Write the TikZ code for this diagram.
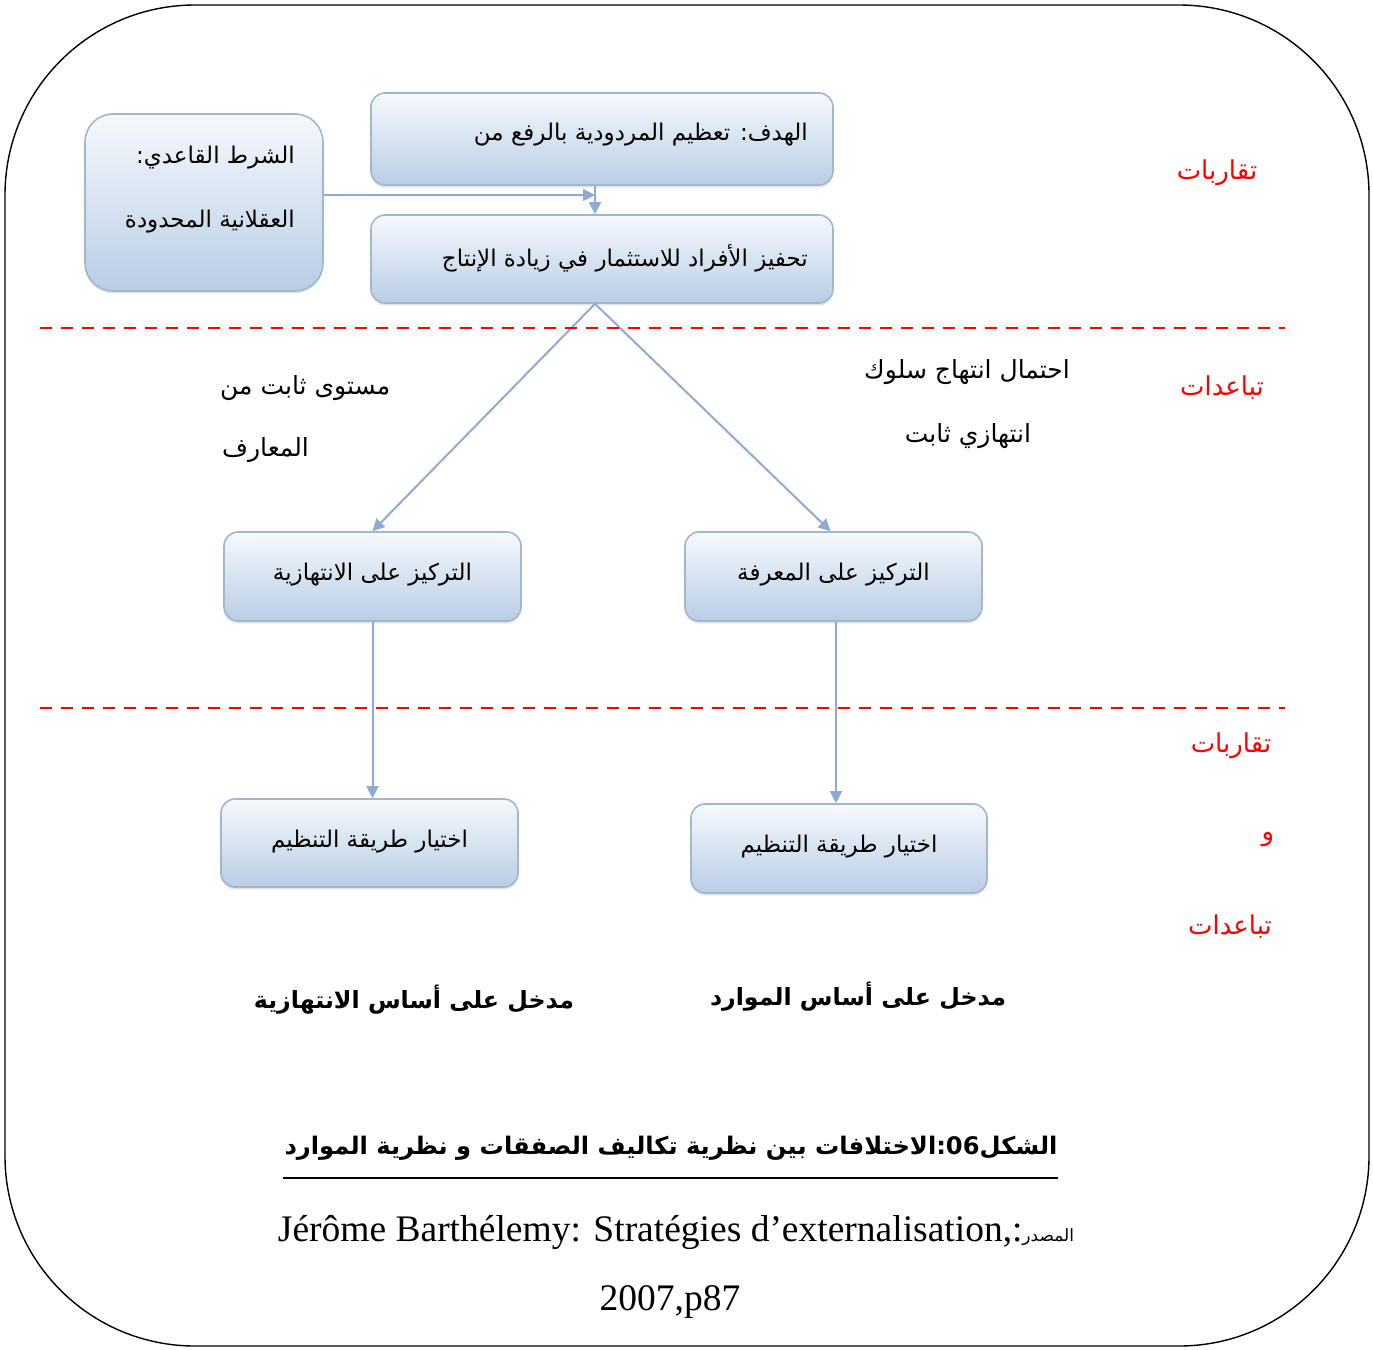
\documentclass[tikz,border=0pt]{standalone}
\usepackage{fontspec}
\setmainfont{Liberation Serif}
\newfontfamily\arabicfont[Script=Arabic]{DejaVu Sans}
\TeXXeTstate=1
\usetikzlibrary{arrows.meta,shadows}

\definecolor{boxtop}{HTML}{F6F9FC}
\definecolor{boxbot}{HTML}{B9CDE5}
\definecolor{boxline}{HTML}{A2B6CC}
\definecolor{arrowblue}{HTML}{8FAAD3}

\newcommand{\artext}[1]{{\arabicfont\beginR #1\endR}}

\begin{document}
\begin{tikzpicture}[x=1pt,y=-1pt,
  stagebox/.style={draw=boxline, line width=1.6pt, rounded corners=14pt,
    top color=boxtop, bottom color=boxbot, inner sep=0pt,
    drop shadow={opacity=0.2, shadow xshift=0pt, shadow yshift=-2.5pt}},
  boxtext/.style={font=\arabicfont\fontsize{23}{28}\selectfont, inner sep=0pt},
  link/.style={draw=arrowblue, line width=2pt, -{Triangle[length=12pt,width=12pt]}},
  sepline/.style={red, line width=2.2pt, dash pattern=on 12pt off 9pt},
  sidelabel/.style={text=red, font=\arabicfont\fontsize{26}{30}\selectfont, inner sep=0pt},
  note/.style={font=\arabicfont\fontsize{25}{30}\selectfont, inner sep=0pt},
  approach/.style={font=\arabicfont\bfseries\fontsize{23.7}{30}\selectfont, inner sep=0pt},
]
\useasboundingbox (0,0) rectangle (1373,1349);

% outer frame
\draw[line width=1.4pt, rounded corners=190pt] (5,5) rectangle (1369,1346);

% boxes
\node[stagebox, rounded corners=28pt, minimum width=238pt, minimum height=177pt] (cond) at (204,202.5) {};
\node[boxtext, anchor=east] (condA) at (295,158) {\artext{الشرط القاعدي:}};
\node[boxtext, anchor=east] (condB) at (295,222) {\artext{العقلانية المحدودة}};

\node[stagebox, minimum width=462pt, minimum height=92pt] (goal) at (602,139) {};
\node[boxtext, anchor=east] (goalT) at (808,135) {\artext{الهدف: تعظيم المردودية بالرفع من}};

\node[stagebox, minimum width=462pt, minimum height=88pt] (motiv) at (602,259) {};
\node[boxtext, anchor=east] (motivT) at (808,258) {\artext{تحفيز الأفراد للاستثمار في زيادة الإنتاج}};

\node[stagebox, minimum width=297pt, minimum height=89pt] (opp) at (372.5,576.5) {};
\node[boxtext] (oppT) at (372.5,575) {\artext{التركيز على الانتهازية}};

\node[stagebox, minimum width=297pt, minimum height=89pt] (know) at (833.5,576.5) {};
\node[boxtext] (knowT) at (833.5,575) {\artext{التركيز على المعرفة}};

\node[stagebox, minimum width=297pt, minimum height=88pt] (choiceL) at (369.5,843) {};
\node[boxtext] (choiceLT) at (369.5,842) {\artext{اختيار طريقة التنظيم}};

\node[stagebox, minimum width=296pt, minimum height=89pt] (choiceR) at (839,848.5) {};
\node[boxtext] (choiceRT) at (839,847) {\artext{اختيار طريقة التنظيم}};

% connectors
\coordinate (joint) at (595,195);
\draw[link] ([yshift=7.5pt]cond.east) -- (joint);
\draw[link] ([xshift=-7pt]goal.south) -- ([xshift=-7pt]motiv.north);
\draw[link] ([xshift=-7pt]motiv.south) -- (opp.north);
\draw[link] ([xshift=-7pt]motiv.south) -- ([xshift=-3pt]know.north);
\draw[link] (opp.south) -- (opp.south |- choiceL.north);
\draw[link] ([xshift=2.5pt]know.south) -- ([xshift=2.5pt]know.south |- choiceR.north);

% separators
\draw[sepline] (40,328) -- (1285,328);
\draw[sepline] (40,708) -- (1285,708);

% side labels
\node[sidelabel] (near1) at (1217,173) {\artext{تقاربات}};
\node[sidelabel] (far1) at (1222,388) {\artext{تباعدات}};
\node[sidelabel] (near2) at (1231,746) {\artext{تقاربات}};
\node[sidelabel] (andw) at (1268,840) {\artext{و}};
\node[sidelabel] (far2) at (1230,927) {\artext{تباعدات}};

% notes on the diverging arrows
\node[note, anchor=west] (noteL1) at (220,388) {\artext{مستوى ثابت من}};
\node[note, anchor=west] (noteL2) at (222,450) {\artext{المعارف}};
\node[note] (noteR1) at (967,372) {\artext{احتمال انتهاج سلوك}};
\node[note] (noteR2) at (968,436) {\artext{انتهازي ثابت}};

% approach names
\node[approach] (apprL) at (414,1000) {\artext{مدخل على أساس الانتهازية}};
\node[approach] (apprR) at (858,997) {\artext{مدخل على أساس الموارد}};

% caption
\node[font=\arabicfont\bfseries\fontsize{24.2}{30}\selectfont, inner sep=0pt] (title) at (671,1148)
  {\artext{الشكل\beginL 06\endL:الاختلافات بين نظرية تكاليف الصفقات و نظرية الموارد}};
\draw[line width=2.5pt] (283,1178) -- (1058,1178);

\node[font=\fontsize{37.5}{42}\selectfont, inner sep=0pt] (source) at (676,1232)
  {Jérôme Barthélemy: Stratégies d’externalisation,:{\arabicfont\fontsize{17}{20}\selectfont\beginR المصدر\endR}};
\node[font=\fontsize{37.5}{42}\selectfont, inner sep=0pt] (year) at (670,1302) {2007,p87};
\end{tikzpicture}
\end{document}
